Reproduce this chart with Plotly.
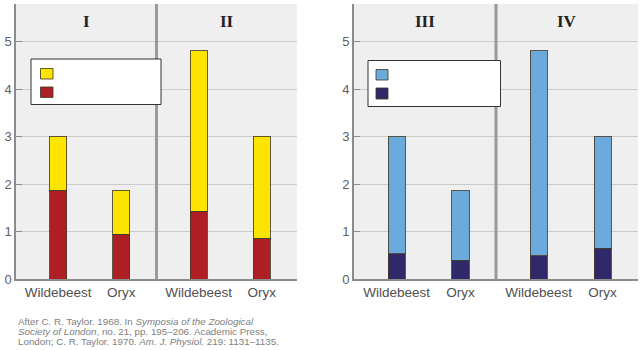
import plotly.graph_objects as go

# ---- data ----
tick_labels = ["Wildebeest", "Oryx", "Wildebeest", "Oryx"]
panel_titles_left = ["I", "II"]
panel_titles_right = ["III", "IV"]

left_bottom = [1.88, 0.95, 1.43, 0.86]   # red segment
left_top = [1.12, 0.92, 3.38, 2.15]      # yellow segment
right_bottom = [0.54, 0.40, 0.50, 0.65]  # dark navy segment
right_top = [2.46, 1.46, 4.31, 2.35]     # light blue segment

caption_lines = [
    "After C. R. Taylor. 1968. In <i>Symposia of the Zoological</i>",
    "<i>Society of London</i>, no. 21, pp. 195–206. Academic Press,",
    "London; C. R. Taylor. 1970. <i>Am. J. Physiol.</i> 219: 1131–1135.",
]

# ---- layout constants ----
xpos = [0.6, 1.5, 2.6, 3.5]
bar_w = 0.24
YELLOW = "#FFE400"
RED = "#AE1F25"
LBLUE = "#6AAADC"
NAVY = "#2F2869"
OUTLINE = "rgba(70,60,40,0.85)"
GRID = "#CBCBCB"
AXIS = "#8C8C8C"
FONT = "Liberation Sans, Arial, sans-serif"

fig = go.Figure()

def add_bars(xaxis, yaxis, bottom, top, cb, ct):
    fig.add_trace(go.Bar(x=xpos, y=bottom, width=bar_w, marker=dict(color=cb, line=dict(color=OUTLINE, width=1)),
                         xaxis=xaxis, yaxis=yaxis, showlegend=False, hoverinfo="skip"))
    fig.add_trace(go.Bar(x=xpos, y=top, width=bar_w, marker=dict(color=ct, line=dict(color=OUTLINE, width=1)),
                         xaxis=xaxis, yaxis=yaxis, showlegend=False, hoverinfo="skip"))

add_bars("x", "y", left_bottom, left_top, RED, YELLOW)
add_bars("x2", "y2", right_bottom, right_top, NAVY, LBLUE)

xcommon = dict(range=[0, 4], tickvals=xpos, ticktext=tick_labels, showgrid=False, zeroline=False,
               showline=True, linecolor=AXIS, linewidth=1.5, ticks="", fixedrange=True, automargin=False,
               tickfont=dict(family=FONT, size=13.5, color="#505050"))
ycommon = dict(range=[0, 5.8], tickvals=[0, 1, 2, 3, 4, 5], showgrid=True, gridcolor=GRID, gridwidth=1,
               zeroline=False, showline=True, linecolor=AXIS, linewidth=1.5, ticks="inside", ticklen=6,
               tickcolor=AXIS, automargin=False, tickfont=dict(family=FONT, size=13, color="#606060"))

fig.update_layout(
    barmode="stack",
    width=640, height=350,
    margin=dict(l=0, r=0, t=0, b=0, pad=0, autoexpand=False),
    paper_bgcolor="white",
    plot_bgcolor="#EFEFEF",
    xaxis=dict(domain=[0.025, 0.464], anchor="y", **xcommon),
    yaxis=dict(domain=[0.202, 0.989], anchor="x", **ycommon),
    xaxis2=dict(domain=[0.553, 0.997], anchor="y2", **xcommon),
    yaxis2=dict(domain=[0.202, 0.989], anchor="x2", **ycommon),
)

shapes = []
# dividers
for xr, yr in (("x", "y"), ("x2", "y2")):
    shapes.append(dict(type="line", xref=xr, yref=yr, x0=2, x1=2, y0=0, y1=5.8,
                       line=dict(color="#9A9A9A", width=3), layer="above"))

# legend boxes (paper coords, fraction of 640x350)
def px(x):
    return x / 640

def py(y):
    return 1 - y / 350

def rect(x0, y0, x1, y1, fill, line_color, lw):
    shapes.append(dict(type="rect", xref="paper", yref="paper", x0=px(x0), x1=px(x1), y0=py(y1), y1=py(y0),
                       fillcolor=fill, line=dict(color=line_color, width=lw), layer="above"))

rect(31, 59, 161, 104.5, "white", "#333333", 1)
rect(40.5, 68.5, 53, 79, YELLOW, OUTLINE, 1)
rect(40.5, 87, 53, 97.5, RED, OUTLINE, 1)

rect(368, 60.5, 500.5, 106.5, "white", "#333333", 1)
rect(376, 69.5, 388, 80, LBLUE, OUTLINE, 1)
rect(376, 88, 388, 99, NAVY, OUTLINE, 1)

fig.update_layout(shapes=shapes)

# panel titles
ann = []
for t, xv in zip(panel_titles_left, [1, 3]):
    ann.append(dict(text="<b>%s</b>" % t, x=xv, y=5.42, xref="x", yref="y", showarrow=False,
                    font=dict(family="Liberation Serif, Times New Roman, serif", size=17, color="#222")))
for t, xv in zip(panel_titles_right, [1, 3]):
    ann.append(dict(text="<b>%s</b>" % t, x=xv, y=5.42, xref="x2", yref="y2", showarrow=False,
                    font=dict(family="Liberation Serif, Times New Roman, serif", size=17, color="#222")))

for i, line in enumerate(caption_lines):
    ann.append(dict(text=line, x=px(15.5), y=py(321.7 + 10 * i), xref="paper", yref="paper",
                    xanchor="left", yanchor="middle", showarrow=False, align="left",
                    font=dict(family=FONT, size=9.8, color="#808080")))
fig.update_layout(annotations=ann)

fig.write_html("out.html")
